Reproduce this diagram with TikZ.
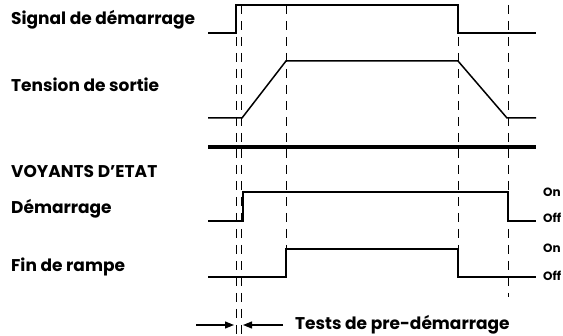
\documentclass[tikz,border=0pt]{standalone}
\usepackage{fontspec}
\setmainfont{Poppins}
\usetikzlibrary{arrows.meta}

\begin{document}
\begin{tikzpicture}[
    x=1pt, y=-1pt,
    lbl/.style={anchor=west, inner sep=0pt, font=\fontsize{17}{19}\selectfont\bfseries},
    state/.style={anchor=west, inner sep=0pt, font=\fontsize{12}{14}\selectfont\bfseries},
    sig/.style={line width=1.5pt, line join=miter},
    tmark/.style={line width=0.8pt, dash pattern=on 9pt off 7pt},
    >={Triangle[length=9pt, width=7pt]}
  ]
  \useasboundingbox (0,0) rectangle (563,336);

  % Labels
  \node[lbl] (start) at (11,20) {Signal de démarrage};
  \node[lbl] (vout) at (11,85) {Tension de sortie};
  \node[lbl] (leds) at (11,172) {VOYANTS D'ETAT};
  \node[lbl] (ledstart) at (11,209) {Démarrage};
  \node[lbl] (ledramp) at (11,267) {Fin de rampe};

  % Time marks
  \draw[tmark] (236,5) -- (236,336);
  \draw[tmark] (241,5) -- (241,336);
  \draw[tmark] (286,5) -- (286,249);
  \draw[tmark] (458,5) -- (458,249);
  \draw[tmark] (508,5) -- (508,297);

  % Signals
  \draw[sig] (208,33) -- (236,33) -- (236,5) -- (458,5) -- (458,33) -- (536,33);
  \draw[sig] (208,118) -- (242,118) -- (286,61) -- (458,61)
    -- (507,118) -- (536,118);

  % Separator
  \draw[line width=3.3pt] (208,147) -- (536,147);

  % Status LEDs
  \draw[sig] (208,221) -- (243,221) -- (243,192) -- (508,192) -- (508,221) -- (536,221);
  \draw[sig] (208,277) -- (286,277) -- (286,249) -- (458,249) -- (458,277) -- (536,277);
  \node[state] (on1) at (543,192) {On};
  \node[state] (off1) at (543,218) {Off};
  \node[state] (on2) at (543,248) {On};
  \node[state] (off2) at (543,276) {Off};

  % Pre-start tests
  \coordinate (tl) at (234,325);
  \coordinate (tr) at (243,325);
  \draw[->, line width=1.2pt] (196,325) -- (tl);
  \draw[->, line width=1.2pt] (283,325) -- (tr);
  \node[lbl] (tests) at (295,325) {Tests de pre-démarrage};

\end{tikzpicture}
\end{document}
